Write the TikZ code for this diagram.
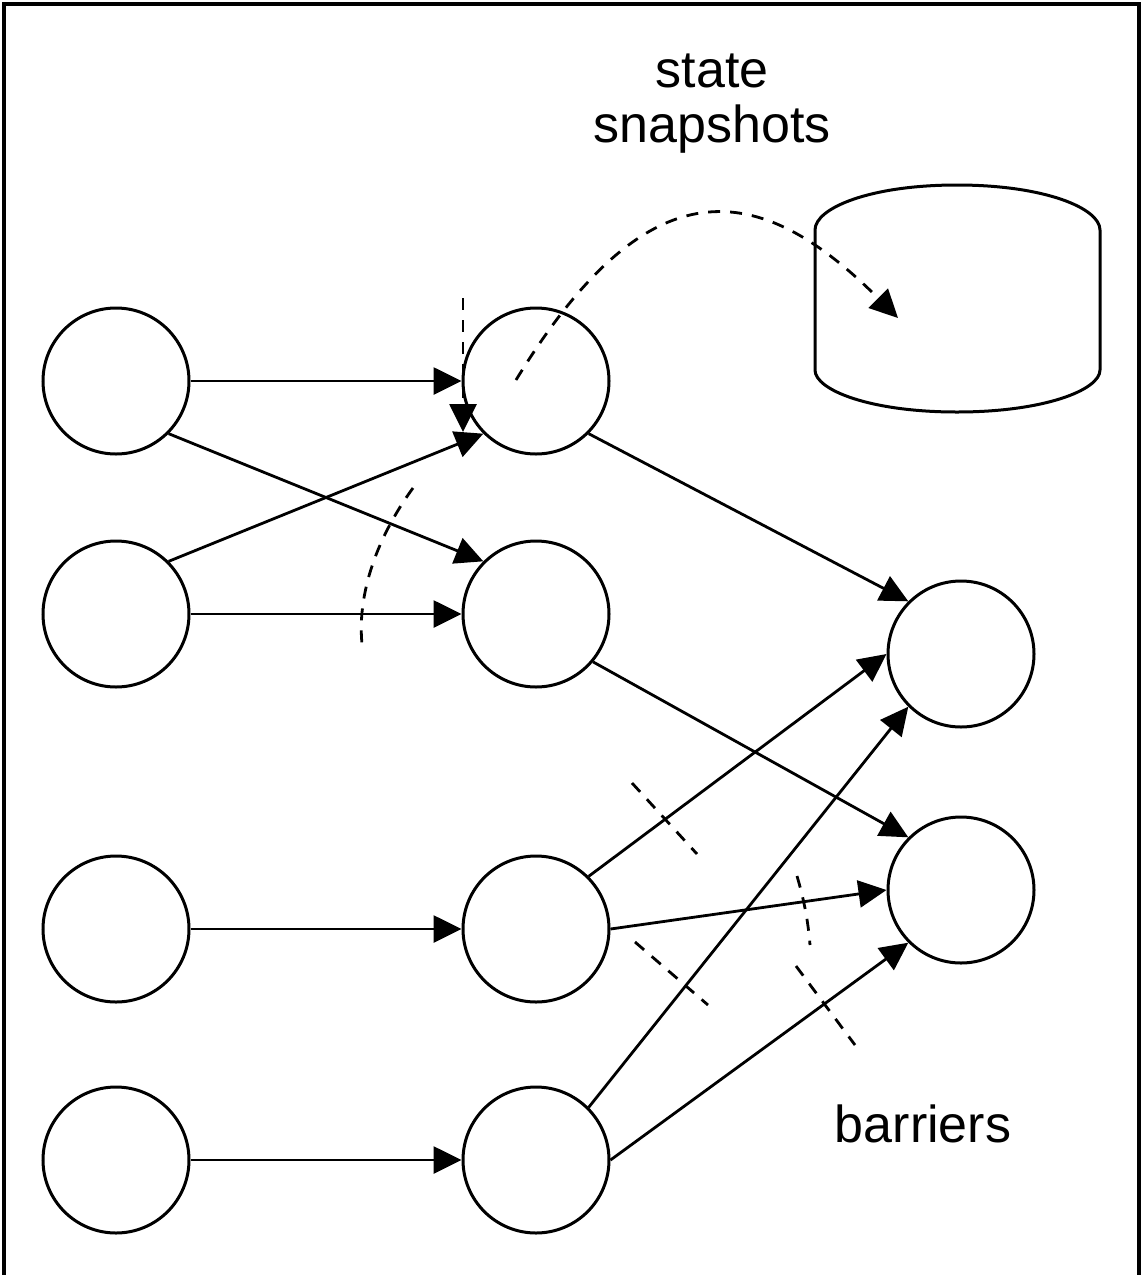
\documentclass[tikz,border=0pt]{standalone}
\usepackage{fontspec}
\setmainfont{Liberation Sans}
\usetikzlibrary{arrows.meta}
\begin{document}
\begin{tikzpicture}[x=1pt,y=-1pt,
  proc/.style={circle, draw, line width=3pt, minimum size=146pt, inner sep=0pt, fill=white},
  flow/.style={line width=2.8pt, -{Triangle[length=28pt,width=27pt]}},
  dashline/.style={line width=2.8pt, dash pattern=on 12pt off 10pt},
  caption/.style={font=\fontsize{52}{55}\selectfont, inner sep=0pt, anchor=base}]
\useasboundingbox (0,0) rectangle (1142,1275);
% frame
\draw[line width=4.5pt] (4,1280) -- (4,4) -- (1139,4) -- (1139,1280);

% texts
\node[caption] (state) at (712,87) {state};
\node[caption] (snap) at (712,142) {snapshots};
\node[caption] (barriers) at (923,1142) {barriers};

% storage cylinder
\draw[line width=3pt, fill=white] (815,370) -- (815,230)
  .. controls (815,208) and (870,185) .. (957,185)
  .. controls (1044,185) and (1100,208) .. (1100,230)
  -- (1100,370)
  .. controls (1100,390) and (1044,412) .. (957,412)
  .. controls (870,412) and (815,390) .. (815,370) -- cycle;
\coordinate (store) at (898,318);

% nodes
\node[proc] (A1) at (116,381) {};
\node[proc] (A2) at (116,614) {};
\node[proc] (A3) at (116,929) {};
\node[proc] (A4) at (116,1160) {};
\node[proc] (B1) at (536,381) {};
\node[proc] (B2) at (536,614) {};
\node[proc] (B3) at (536,929) {};
\node[proc] (B4) at (536,1160) {};
\node[proc] (C1) at (961,654) {};
\node[proc] (C2) at (961,890) {};

% edges
\draw[flow] (A1) -- (B1);
\draw[flow] (A1.-45) -- (B2.135);
\draw[flow] (A2.45) -- (B1.-135);
\draw[flow] (A2) -- (B2);
\draw[flow] (A3) -- (B3);
\draw[flow] (A4) -- (B4);
\draw[flow] (B1.-45) -- (C1.135);
\draw[flow] (B2.-40) -- (C2.135);
\draw[flow] (B3.45) -- (C1.180);
\draw[flow] (B3.0) -- (C2.180);
\draw[flow] (B4.45) -- (C1.-135);
\draw[flow] (B4.0) -- (C2.-135);

% snapshot and barrier markers
\coordinate (snapstart) at (516,380);
\draw[dashline, -{Triangle[length=28pt,width=27pt]}] (snapstart)
  .. controls (649,162) and (759,179) .. (store);
\coordinate (bar0a) at (463,298);
\coordinate (bar0b) at (463,432);
\draw[dashline, -{Triangle[length=28pt,width=27pt]}] (bar0a) -- (bar0b);
\coordinate (bar1a) at (413,488);
\coordinate (bar1b) at (363,652);
\draw[dashline] (bar1a) .. controls (375,540) and (355,600) .. (bar1b);
\coordinate (bar2a) at (632,783);
\coordinate (bar2b) at (697,854);
\draw[dashline] (bar2a) -- (bar2b);
\coordinate (bar3a) at (635,942);
\coordinate (bar3b) at (708,1005);
\draw[dashline] (bar3a) -- (bar3b);
\coordinate (bar4a) at (797,876);
\coordinate (bar4b) at (810,945);
\draw[dashline] (bar4a) .. controls (804,900) and (808,920) .. (bar4b);
\coordinate (bar5a) at (796,966);
\coordinate (bar5b) at (855,1045);
\draw[dashline] (bar5a) -- (bar5b);
\end{tikzpicture}
\end{document}
